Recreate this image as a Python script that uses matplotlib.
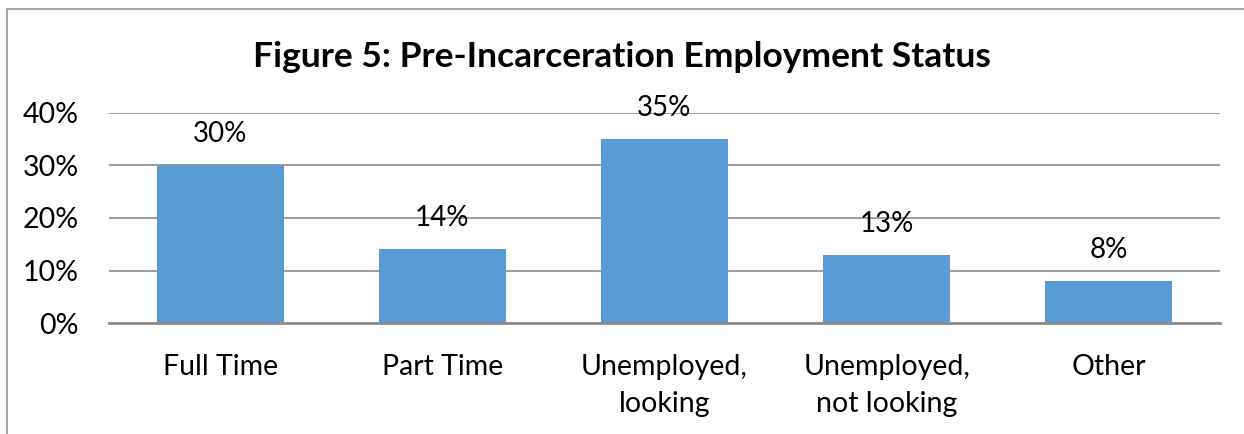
import matplotlib.pyplot as plt
from matplotlib.lines import Line2D
from matplotlib.ticker import FuncFormatter

plt.rcParams['font.family'] = ['Lato', 'DejaVu Sans']

categories = ['Full Time', 'Part Time', 'Unemployed,\nlooking', 'Unemployed,\nnot looking', 'Other']
shares = [30, 14, 35, 13, 8]
yticks = [0, 10, 20, 30, 40]

W, H = 1244, 434
fig = plt.figure(figsize=(W / 100, H / 100), dpi=100)

# chart frame (only top and left edges visible)
frame_col = '#A6A6A6'
fig.add_artist(Line2D([7 / W, 7 / W], [0, 1 - 9 / H], color=frame_col, lw=1.5))
fig.add_artist(Line2D([7 / W, 1], [1 - 9 / H, 1 - 9 / H], color=frame_col, lw=1.5))

ax = fig.add_axes([109 / W, 111 / H, (1220 - 109) / W, 210 / H])
x = range(len(categories))
bars = ax.bar(x, shares, width=0.572, color='#5B9BD5', zorder=3)

for b, v in zip(bars, shares):
    ax.annotate(f'{v}%', (b.get_x() + b.get_width() / 2, v), xytext=(0, 13),
                textcoords='offset points', ha='center', va='bottom', fontsize=20)

ax.set_xlim(-0.5, len(categories) - 0.5)
ax.set_ylim(0, 40)
ax.set_yticks(yticks)
ax.yaxis.set_major_formatter(FuncFormatter(lambda v, _: f'{v:.0f}%'))
ax.set_xticks(list(x))
ax.set_xticklabels(categories, fontsize=20.5, linespacing=1.55)
ax.tick_params(axis='y', labelsize=20.5, length=0, pad=22)
ax.tick_params(axis='x', length=0, pad=22)
ax.grid(axis='y', color='#8C8C8C', lw=1.2, zorder=0)
for s in ['top', 'right', 'left']:
    ax.spines[s].set_visible(False)
ax.spines['bottom'].set_color('#8C8C8C')
ax.spines['bottom'].set_linewidth(2)
ax.spines['bottom'].set_zorder(4)

fig.text(0.5, 1 - 57 / H, 'Figure 5: Pre-Incarceration Employment Status',
         ha='center', va='center', fontsize=25.5, fontweight='bold')

fig.savefig('out.png', dpi=100)
